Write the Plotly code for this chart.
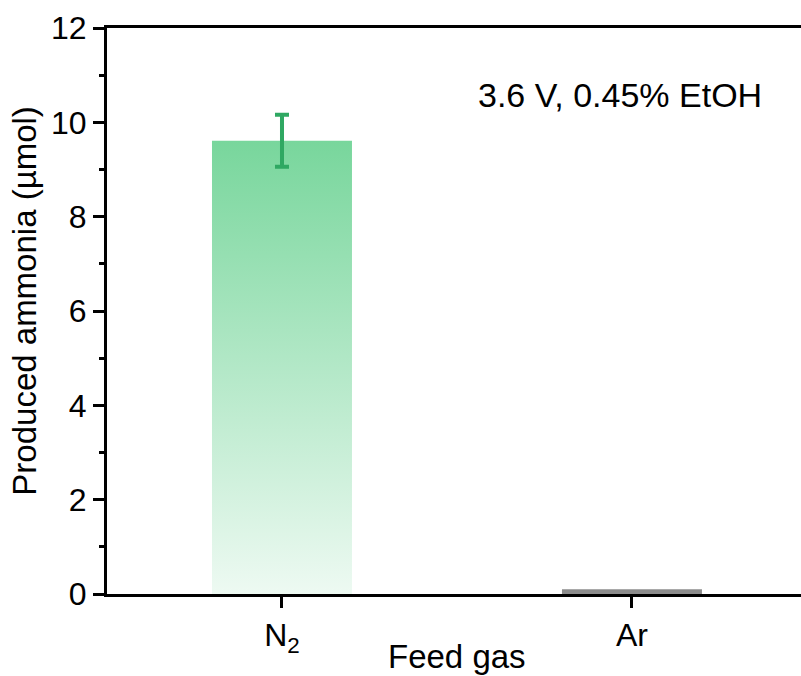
import plotly.graph_objects as go

categories = ["N<sub>2</sub>", "Ar"]
values = [9.61, 0.1]
errors = [0.55, None]
bar_colors_top = ["rgba(120,214,156,1)", "rgba(140,140,140,1)"]
bar_colors_bottom = ["rgba(120,214,156,0.13)", "rgba(140,140,140,1)"]
y_ticks = [0, 2, 4, 6, 8, 10, 12]
annotation_text = "3.6 V, 0.45% EtOH"
x_title = "Feed gas"
y_title = "Produced ammonia (µmol)"

FONT = "Arial, 'Liberation Sans', sans-serif"
bar_width = 0.4
xpos = list(range(len(categories)))

fig = go.Figure()

for i, (x, v) in enumerate(zip(xpos, values)):
    fig.add_trace(go.Scatter(
        x=[x - bar_width / 2, x + bar_width / 2, x + bar_width / 2, x - bar_width / 2, x - bar_width / 2],
        y=[0, 0, v, v, 0],
        mode="lines",
        line=dict(width=0, color="rgba(0,0,0,0)"),
        fill="toself",
        fillgradient=dict(type="vertical",
                          colorscale=[[0, bar_colors_bottom[i]], [1, bar_colors_top[i]]],
                          start=0, stop=v),
        hoverinfo="skip",
        showlegend=False,
    ))

for x, v, e in zip(xpos, values, errors):
    if e is None:
        continue
    fig.add_trace(go.Scatter(
        x=[x], y=[v], mode="markers",
        marker=dict(size=1, color="rgba(0,0,0,0)"),
        error_y=dict(type="data", array=[e], visible=True, color="#2fa862", thickness=4, width=7),
        showlegend=False,
    ))

fig.add_annotation(
    text=annotation_text, xref="paper", yref="paper", x=0.531, y=0.881,
    xanchor="left", yanchor="middle", showarrow=False,
    font=dict(family=FONT, size=34, color="black"),
)
fig.add_annotation(
    text=x_title, xref="paper", yref="paper", x=(457 - 107) / 694, y=-0.111,
    xanchor="center", yanchor="middle", showarrow=False,
    font=dict(family=FONT, size=33, color="black"),
)
fig.add_annotation(
    text=y_title, xref="paper", yref="paper", x=-0.119, y=0.519, textangle=-90,
    xanchor="center", yanchor="middle", showarrow=False,
    font=dict(family=FONT, size=33, color="black"),
)

fig.update_layout(
    width=801, height=676,
    margin=dict(l=107, r=0, t=28, b=82),
    paper_bgcolor="white", plot_bgcolor="white",
    font=dict(family=FONT, size=32, color="black"),
    showlegend=False,
)

fig.update_xaxes(
    range=[-0.5, 1.483], tickvals=xpos, ticktext=categories, automargin=False,
    showgrid=False, zeroline=False,
    showline=True, linewidth=3, linecolor="black", mirror=True,
    ticks="outside", ticklen=11, tickwidth=3, tickcolor="black",
    tickfont=dict(family=FONT, size=32, color="black"),
)
fig.update_yaxes(
    range=[0, 12], tickvals=y_ticks, automargin=False,
    showgrid=False, zeroline=False,
    showline=True, linewidth=3, linecolor="black", mirror=False,
    ticks="outside", ticklen=11, tickwidth=3, tickcolor="black",
    minor=dict(ticks="outside", ticklen=5, tickwidth=3, tickcolor="black", dtick=1),
    tickfont=dict(family=FONT, size=32, color="black"),
)

fig.write_html("out.html", config={"displayModeBar": False},
               post_script="document.body.style.margin='0px';")
